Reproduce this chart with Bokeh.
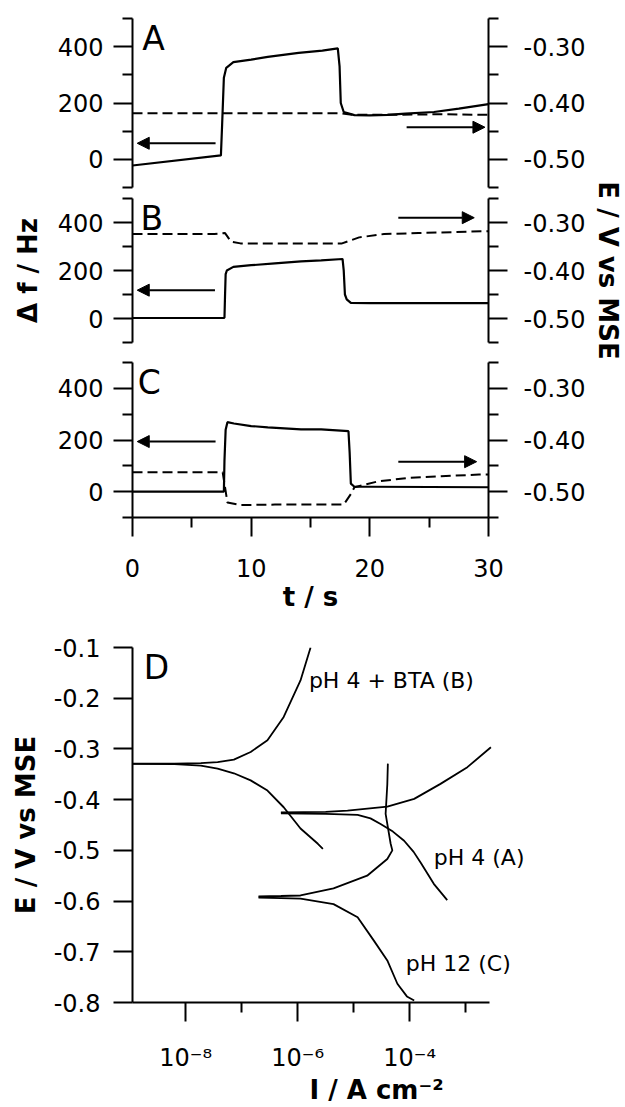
import math
from bokeh.plotting import figure
from bokeh.models import (Range1d, LinearAxis, FixedTicker, Arrow, NormalHead,
                          Label, NumeralTickFormatter)
from bokeh.layouts import column, row
from bokeh.embed import file_html
from bokeh.resources import INLINE

FONT = "DejaVu Sans"

# ---------------- Panel A (t / s, delta f / Hz, E / V) ----------------
a_t = [0, 7.45, 7.55, 7.7, 7.9, 8.5, 10, 11.4, 14, 16, 17.3, 17.45, 17.55, 17.8, 18.7, 20, 21.5, 23, 25.4, 27.5, 30]
a_df = [-22, 14, 120, 290, 325, 345, 354, 364, 378, 386, 394, 330, 200, 168, 157, 156, 158, 162, 168, 180, 196]
a_te = [0, 5, 10, 15, 17.5, 18.5, 22, 26, 30]
a_e = [-0.418, -0.418, -0.418, -0.418, -0.418, -0.421, -0.421, -0.420, -0.421]

# ---------------- Panel B ----------------
b_t = [0, 7.75, 7.8, 7.85, 7.95, 8.5, 10, 12, 14.2, 15.9, 17.7, 17.8, 17.9, 18.05, 18.4, 20, 24, 30]
b_df = [2, 3, 100, 185, 200, 215, 222, 230, 238, 242, 248, 200, 100, 80, 65, 64, 64, 64]
b_te = [0, 3, 6.9, 7.8, 8.3, 9.1, 12, 15.9, 17.6, 18.3, 19.1, 21.2, 24.1, 27, 30]
b_e = [-0.324, -0.324, -0.324, -0.322, -0.340, -0.3435, -0.344, -0.344, -0.344, -0.338, -0.331, -0.324, -0.322, -0.320, -0.318]

# ---------------- Panel C ----------------
c_t = [0, 7.7, 7.75, 7.85, 8.0, 8.55, 10, 11.4, 14.2, 15.9, 18.2, 18.3, 18.4, 18.7, 20, 25, 30]
c_df = [0, 0, 120, 240, 269, 264, 254, 249, 241, 241, 234, 150, 31, 19, 19, 18, 17]
c_te = [0, 4, 7.6, 8.0, 9.1, 12, 15, 17.8, 18.4, 18.7, 20.7, 23.2, 26.0, 29.2, 30]
c_e = [-0.4625, -0.4625, -0.4625, -0.521, -0.526, -0.525, -0.525, -0.525, -0.5045, -0.4915, -0.480, -0.4735, -0.470, -0.467, -0.467]

# arrows: (t_start, t_end, level); left arrows on delta f axis, right arrows on E axis
arrows_left = {"A": (7.0, 0.4, 57), "B": (6.95, 0.4, 118), "C": (7.0, 0.4, 194)}
arrows_right = {"A": (23.1, 29.7, -0.443), "B": (22.4, 28.8, -0.290), "C": (22.4, 29.0, -0.442)}
panel_label_x = {"A": 0.82, "B": 0.68, "C": 0.45}

# ---------------- Panel D (log I / A cm^-2, E / V vs MSE) ----------------
# pH 4 + BTA (B)
db_cat_logi = [-5.55, -5.64, -5.95, -6.25, -6.54, -6.84, -7.14, -7.43, -7.73, -8.2, -9.3]
db_cat_e = [-0.497, -0.487, -0.457, -0.415, -0.382, -0.362, -0.348, -0.339, -0.333, -0.330, -0.329]
db_an_logi = [-9.3, -8.2, -7.73, -7.43, -7.14, -6.84, -6.54, -6.25, -5.95, -5.77]
db_an_e = [-0.329, -0.329, -0.328, -0.326, -0.321, -0.306, -0.283, -0.237, -0.165, -0.100]
# pH 4 (A)
da_an_logi = [-6.3, -5.5, -5.11, -4.40, -3.92, -3.45, -2.97, -2.55]
da_an_e = [-0.425, -0.424, -0.4215, -0.4136, -0.3985, -0.3689, -0.336, -0.2966]
da_cat_logi = [-6.3, -5.5, -4.93, -4.70, -4.52, -4.30, -4.10, -3.93, -3.80, -3.57, -3.33]
da_cat_e = [-0.427, -0.428, -0.430, -0.437, -0.448, -0.463, -0.481, -0.503, -0.525, -0.566, -0.598]
# pH 12 (C)
dc_an_logi = [-6.7, -6.3, -5.95, -5.36, -4.76, -4.40, -4.31, -4.34, -4.43, -4.40, -4.39]
dc_an_e = [-0.591, -0.590, -0.589, -0.575, -0.550, -0.517, -0.500, -0.487, -0.428, -0.370, -0.329]
dc_cat_logi = [-6.7, -6.3, -5.95, -5.36, -4.93, -4.64, -4.40, -4.22, -4.05, -3.92]
dc_cat_e = [-0.593, -0.594, -0.595, -0.606, -0.632, -0.678, -0.717, -0.763, -0.788, -0.796]

d_labels = ["pH 4 + BTA (B)", "pH 4 (A)", "pH 12 (C)"]
d_label_logi = [-5.80, -3.57, -4.07]
d_label_e = [-0.165, -0.514, -0.723]

# log10 limits of the drawn I axis
d_axis_lo, d_axis_hi = -8.95, -2.57


def style_axis(ax):
    ax.axis_line_width = 2
    ax.axis_line_color = "black"
    ax.major_tick_line_width = 2
    ax.minor_tick_line_width = 2
    ax.major_tick_line_color = "black"
    ax.minor_tick_line_color = "black"
    ax.major_tick_out = 19
    ax.major_tick_in = 0
    ax.minor_tick_out = 10
    ax.minor_tick_in = 0
    ax.major_label_text_font = FONT
    ax.major_label_text_font_size = "24px"
    ax.major_label_text_color = "black"
    ax.axis_label_text_font = FONT
    ax.axis_label_text_font_style = "bold"
    ax.axis_label_text_font_size = "26px"
    ax.axis_label_text_color = "black"


def top_panel(name, height, top, bottom, show_x, t, df, te, e):
    p = figure(width=594, height=height, x_range=Range1d(0, 30), y_range=Range1d(-100, 500),
               output_backend="svg", toolbar_location=None,
               x_axis_location="below" if show_x else None,
               min_border_left=132, min_border_right=106, min_border_top=top, min_border_bottom=bottom)
    p.extra_y_ranges = {"E": Range1d(-0.55, -0.25)}
    rax = LinearAxis(y_range_name="E")
    p.add_layout(rax, "right")
    p.yaxis[0].ticker = FixedTicker(ticks=[0, 200, 400], minor_ticks=[-100, 100, 300, 500])
    rax.ticker = FixedTicker(ticks=[-0.5, -0.4, -0.3], minor_ticks=[-0.55, -0.45, -0.35, -0.25])
    rax.formatter = NumeralTickFormatter(format="0.00")
    if show_x:
        p.xaxis.ticker = FixedTicker(ticks=[0, 10, 20, 30], minor_ticks=[5, 15, 25])
        p.xaxis.axis_label = "t / s"
    for ax in p.axis:
        style_axis(ax)
    p.yaxis[0].major_label_standoff = 10
    rax.major_label_standoff = 16
    if show_x:
        p.xaxis.major_label_standoff = 22
        p.xaxis.axis_label_standoff = 2
    p.grid.visible = False
    p.outline_line_color = None
    p.background_fill_color = "white"
    p.border_fill_color = "white"

    p.line(t, df, line_color="black", line_width=2.2)
    p.line(te, e, line_color="black", line_width=2, line_dash="10 5", y_range_name="E")

    xs, xe, lv = arrows_left[name]
    p.add_layout(Arrow(end=NormalHead(size=12, fill_color="black", line_color="black", line_width=1),
                       x_start=xs, y_start=lv, x_end=xe, y_end=lv, line_width=2, line_color="black"))
    xs, xe, lv = arrows_right[name]
    p.add_layout(Arrow(end=NormalHead(size=12, fill_color="black", line_color="black", line_width=1),
                       x_start=xs, y_start=lv, x_end=xe, y_end=lv, line_width=2, line_color="black",
                       y_range_name="E"))
    p.add_layout(Label(x=panel_label_x[name], y=500, text=name, text_baseline="top",
                       text_font=FONT, text_font_size="33px", text_color="black"))
    return p, rax


pA, rA = top_panel("A", 192, 18, 5, False, a_t, a_df, a_te, a_e)
pB, rB = top_panel("B", 160, 6, 10, False, b_t, b_df, b_te, b_e)
pB.yaxis[0].axis_label = "\u0394 f / Hz"
pB.yaxis[0].axis_label_standoff = 12
pC, rC = top_panel("C", 268, 10, 103, True, c_t, c_df, c_te, c_e)

# shared right-hand axis title of the three time panels
pR = figure(width=31, height=620, x_range=Range1d(0, 31), y_range=Range1d(0, 620),
            output_backend="svg", toolbar_location=None,
            x_axis_location=None, y_axis_location=None, min_border=0)
pR.grid.visible = False
pR.outline_line_color = None
pR.border_fill_color = "white"
pR.add_layout(Label(x=13, y=350, text="E / V vs MSE", angle=-math.pi / 2,
                    text_align="center", text_baseline="middle", text_font=FONT,
                    text_font_style="bold", text_font_size="26px", text_color="black"))

# ---------------- Panel D ----------------
pD = figure(width=625, height=487, x_axis_type="log",
            x_range=Range1d(10 ** d_axis_lo, 10 ** (d_axis_lo + 488 / 56)), y_range=Range1d(-0.8, -0.1),
            output_backend="svg", toolbar_location=None,
            min_border_left=132, min_border_right=5, min_border_top=27, min_border_bottom=105)
pD.xaxis.bounds = (10 ** d_axis_lo, 10 ** d_axis_hi)
pD.xaxis.ticker = FixedTicker(ticks=[1e-8, 1e-6, 1e-4], minor_ticks=[1e-7, 1e-5, 1e-3])
pD.xaxis.major_label_overrides = {1e-8: "10\u207b\u2078", 1e-6: "10\u207b\u2076", 1e-4: "10\u207b\u2074"}
pD.yaxis.ticker = FixedTicker(ticks=[-0.8, -0.7, -0.6, -0.5, -0.4, -0.3, -0.2, -0.1], minor_ticks=[])
pD.yaxis.formatter = NumeralTickFormatter(format="0.0")
pD.xaxis.axis_label = "I / A cm\u207b\u00b2"
pD.yaxis.axis_label = "E / V vs MSE"
for ax in pD.axis:
    style_axis(ax)
pD.yaxis.major_label_standoff = 13
pD.yaxis.axis_label_standoff = 10
pD.xaxis.major_label_standoff = 22
pD.xaxis.axis_label_standoff = 0
pD.grid.visible = False
pD.outline_line_color = None
pD.background_fill_color = "white"
pD.border_fill_color = "white"


def tolin(v):
    return [10 ** x for x in v]


for lx, ly in [(db_cat_logi, db_cat_e), (db_an_logi, db_an_e), (da_an_logi, da_an_e),
               (da_cat_logi, da_cat_e), (dc_an_logi, dc_an_e), (dc_cat_logi, dc_cat_e)]:
    pD.line(tolin(lx), ly, line_color="black", line_width=1.8)

for txt, lx, ly in zip(d_labels, d_label_logi, d_label_e):
    pD.add_layout(Label(x=10 ** lx, y=ly, text=txt, text_baseline="middle", text_align="left",
                        text_font=FONT, text_font_size="22px", text_color="black"))
pD.add_layout(Label(x=10 ** -8.75, y=-0.1, text="D", text_baseline="top",
                    text_font=FONT, text_font_size="33px", text_color="black"))

layout = column(row(column(pA, pB, pC, spacing=0), pR, spacing=0), pD, spacing=0)
open("out.html", "w").write(file_html(layout, INLINE))
